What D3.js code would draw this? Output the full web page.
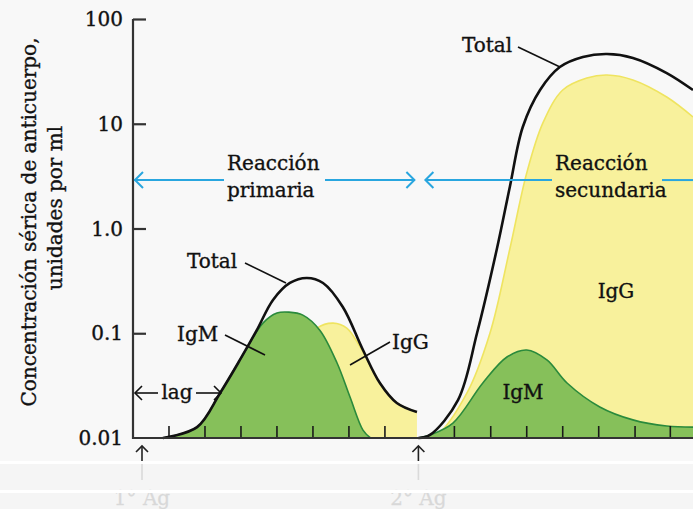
<!DOCTYPE html>
<html><head><meta charset="utf-8">
<script src="https://cdn.jsdelivr.net/npm/d3@7"></script>
<style>
html,body{margin:0;padding:0;background:#f8f8f8;}
svg{display:block;}
text{font-family:"DejaVu Serif",serif;fill:#111;stroke:#111;stroke-width:0.35px;}
</style></head>
<body>
<script>
// ---- data (time in arbitrary units: one tick = 1 unit) ----
const ag1 = 0.25, ag2 = 7.93;
const yTicks = [0.01, 0.1, 1, 10, 100];
const yTickLabels = ["0.01", "0.1", "1.0", "10", "100"];
const xTicksPrimary = [1, 2, 3, 4, 5, 6, 7];
const xTicksSecondary = [8.93, 9.94, 10.94, 11.94, 12.94, 13.95, 14.93];

const tPrimTotal = [0.83, 1.78, 2.42, 2.97, 3.44, 3.89, 4.36, 4.83, 5.28, 5.83, 6.39, 6.86, 7.33, 7.89];
const vPrimTotal = [0.01, 0.0127, 0.0269, 0.0556, 0.107, 0.208, 0.302, 0.337, 0.302, 0.178, 0.0692, 0.0335, 0.0216, 0.0177];
const tPrimIgM = [0.83, 1.78, 2.42, 2.97, 3.61, 4.0, 4.33, 4.72, 5.19, 5.67, 6.03, 6.39, 6.6];
const vPrimIgM = [0.01, 0.0127, 0.0269, 0.0556, 0.125, 0.156, 0.159, 0.149, 0.107, 0.052, 0.0246, 0.0119, 0.01];
const tPrimIgG = [3.5, 4.3, 5.11, 5.56, 5.94, 6.31, 6.86, 7.33, 7.89];
const vPrimIgG = [0.01, 0.05, 0.112, 0.125, 0.112, 0.074, 0.0335, 0.0216, 0.0177];

const tSecTotal = [7.93, 8.25, 9.03, 9.56, 10.11, 10.47, 10.83, 11.31, 11.86, 12.5, 13.17, 13.89, 14.83, 15.56];
const vSecTotal = [0.01, 0.0107, 0.023, 0.1005, 0.637, 2.49, 9.31, 21.0, 34.8, 43.4, 46.3, 42.5, 30.5, 21.0];
const tSecIgG = [7.93, 8.44, 9.28, 9.92, 10.47, 10.94, 11.39, 11.94, 12.61, 13.17, 13.89, 14.83, 15.56];
const vSecIgG = [0.01, 0.0107, 0.0269, 0.1005, 0.637, 3.39, 10.2, 21.0, 27.3, 29.2, 26.2, 18.0, 11.6];
const tSecIgM = [7.93, 8.25, 8.89, 9.72, 10.39, 10.94, 11.5, 12.06, 12.97, 13.89, 14.83, 15.56];
const vSecIgM = [0.01, 0.0107, 0.0139, 0.0335, 0.0593, 0.0692, 0.0556, 0.0335, 0.0198, 0.0149, 0.013, 0.0127];

const zip = (t, v) => t.map((d, i) => ({t: d, v: v[i]}));

// ---- layout ----
const W = 693, H = 509;
const svg = d3.select("body").append("svg").attr("width", W).attr("height", H);
const x = d3.scaleLinear().domain([0, 15.56]).range([133, 693]);
const y = d3.scaleLog().domain([0.01, 100]).range([438, 19]);

const GREEN = "#86c05a", GREEN_S = "#2a8a3c", YELLOW = "#f8f19c", YELLOW_S = "#efe460", BLUE = "#29a6df";
const FS = 20;

const curve = d3.curveCatmullRom.alpha(0.5);
const yBase = y(0.01);
const area = d3.area().x(d => x(d.t)).y0(yBase).y1(d => Math.min(yBase, y(d.v))).curve(curve);
const line = d3.line().x(d => x(d.t)).y(d => Math.min(yBase, y(d.v))).curve(curve);

svg.append("defs").append("clipPath").attr("id", "plot")
  .append("rect").attr("x", x(0)).attr("y", 0).attr("width", W).attr("height", yBase);
const plot = svg.append("g").attr("clip-path", "url(#plot)");

function drawSeries(t, v, fill, stroke) {
  const data = zip(t, v);
  plot.append("path").datum(data).attr("d", area).attr("fill", fill);
  plot.append("path").datum(data).attr("d", line).attr("fill", "none").attr("stroke", stroke).attr("stroke-width", 1.6);
}
drawSeries(tPrimIgG, vPrimIgG, YELLOW, YELLOW_S);
drawSeries(tPrimIgM, vPrimIgM, GREEN, GREEN_S);
drawSeries(tSecIgG, vSecIgG, YELLOW, YELLOW_S);
drawSeries(tSecIgM, vSecIgM, GREEN, GREEN_S);

// x ticks (inside)
svg.append("g").selectAll("line").data(xTicksPrimary.concat(xTicksSecondary)).join("line")
  .attr("x1", d => x(d)).attr("x2", d => x(d)).attr("y1", yBase).attr("y2", yBase - 12)
  .attr("stroke", "#1a1a1a").attr("stroke-width", 1.6);

// total lines
svg.append("path").datum(zip(tPrimTotal, vPrimTotal)).attr("d", line).attr("fill", "none").attr("stroke", "#111").attr("stroke-width", 2.6);
svg.append("path").datum(zip(tSecTotal, vSecTotal)).attr("d", line).attr("fill", "none").attr("stroke", "#111").attr("stroke-width", 2.6);

// axes
const yAxis = d3.axisRight(y).tickValues(yTicks.slice(1)).tickSize(13).tickFormat("");
const gy = svg.append("g").attr("transform", `translate(${x(0)},0)`).call(yAxis);
gy.select(".domain").remove();
gy.selectAll("line").attr("stroke", "#333").attr("stroke-width", 2.2);
svg.append("line").attr("x1", x(0)).attr("x2", x(0)).attr("y1", y(100)).attr("y2", yBase + 1).attr("stroke", "#333").attr("stroke-width", 2.2);
svg.append("line").attr("x1", x(0)).attr("x2", W).attr("y1", yBase).attr("y2", yBase).attr("stroke", "#333").attr("stroke-width", 2);

svg.append("g").selectAll("text").data(yTicks).join("text")
  .attr("x", x(0) - 10).attr("y", d => y(d)).attr("dy", "0.36em").attr("text-anchor", "end")
  .attr("font-size", FS).text((d, i) => yTickLabels[i]);

// y title
const title = svg.append("g");
title.append("text").attr("transform", "translate(36,222) rotate(-90)").attr("text-anchor", "middle")
  .attr("font-size", FS).text("Concentración sérica de anticuerpo,");
title.append("text").attr("transform", "translate(62,208) rotate(-90)").attr("text-anchor", "middle")
  .attr("font-size", FS).text("unidades por ml");

function chevron(g, px, py, dir, size, color, sw) {
  let p;
  if (dir === "l") p = `M${px + size},${py - size} L${px},${py} L${px + size},${py + size}`;
  if (dir === "r") p = `M${px - size},${py - size} L${px},${py} L${px - size},${py + size}`;
  if (dir === "u") p = `M${px - size},${py + size} L${px},${py} L${px + size},${py + size}`;
  g.append("path").attr("d", p).attr("fill", "none").attr("stroke", color).attr("stroke-width", sw);
}
const ann = svg.append("g");
const yb = y(2.9);
ann.append("line").attr("x1", x(0) + 1).attr("x2", 224).attr("y1", yb).attr("y2", yb).attr("stroke", BLUE).attr("stroke-width", 2);
ann.append("line").attr("x1", 325).attr("x2", x(ag2) - 4).attr("y1", yb).attr("y2", yb).attr("stroke", BLUE).attr("stroke-width", 2);
chevron(ann, x(0) + 2, yb, "l", 8, BLUE, 2);
chevron(ann, x(ag2) - 4, yb, "r", 8, BLUE, 2);
ann.append("line").attr("x1", x(ag2) + 7).attr("x2", 552).attr("y1", yb).attr("y2", yb).attr("stroke", BLUE).attr("stroke-width", 2);
chevron(ann, x(ag2) + 7, yb, "l", 8, BLUE, 2);
ann.append("line").attr("x1", 662).attr("x2", W).attr("y1", yb).attr("y2", yb).attr("stroke", BLUE).attr("stroke-width", 2);

ann.append("text").attr("x", 227).attr("y", 170).attr("font-size", FS).text("Reacción");
ann.append("text").attr("x", 227).attr("y", 197).attr("font-size", FS).text("primaria");
ann.append("text").attr("x", 555).attr("y", 170).attr("font-size", FS).text("Reacción");
ann.append("text").attr("x", 555).attr("y", 197).attr("font-size", FS).text("secundaria");

function label(txt, tx, ty, anchor, lx1, ly1, lx2, ly2) {
  ann.append("text").attr("x", tx).attr("y", ty).attr("text-anchor", anchor).attr("font-size", FS).text(txt);
  if (lx1 !== undefined)
    ann.append("line").attr("x1", lx1).attr("y1", ly1).attr("x2", lx2).attr("y2", ly2).attr("stroke", "#111").attr("stroke-width", 1.6);
}
label("Total", 187, 268, "start", 245, 263, 286, 283);
label("IgM", 177, 341, "start", 225, 335, 265, 355);
label("IgG", 392, 349, "start", 390, 342, 350, 365);
label("Total", 462, 52, "start", 518, 47, 560, 67);
label("IgG", 616, 298, "middle");
label("IgM", 523, 399, "middle");

// lag
const yl = 393;
ann.append("line").attr("x1", x(0) + 2).attr("x2", 158).attr("y1", yl).attr("y2", yl).attr("stroke", "#111").attr("stroke-width", 1.6);
chevron(ann, x(0) + 2, yl, "l", 7, "#111", 1.6);
ann.append("text").attr("x", 177).attr("y", 399).attr("text-anchor", "middle").attr("font-size", FS).text("lag");
ann.append("line").attr("x1", 196).attr("x2", 221).attr("y1", yl).attr("y2", yl).attr("stroke", "#111").attr("stroke-width", 1.6);
chevron(ann, 221, yl, "r", 7, "#111", 1.6);

// antigen arrows
[ag1, ag2].forEach((a, i) => {
  const px = x(a);
  ann.append("line").attr("x1", px).attr("x2", px).attr("y1", 446).attr("y2", 480).attr("stroke", "#222").attr("stroke-width", 1.6);
  chevron(ann, px, 446, "u", 6, "#222", 1.6);
  ann.append("text").attr("x", px).attr("y", 505).attr("text-anchor", "middle").attr("font-size", FS)
    .text((i === 0 ? "1" : "2") + "° Ag");
});

// faded bottom band
const band = svg.append("g");
band.append("rect").attr("x", 0).attr("y", 462).attr("width", W).attr("height", 47).attr("fill", "#f4f4f4").attr("opacity", 0.88);
band.append("rect").attr("x", 0).attr("y", 461).attr("width", W).attr("height", 3).attr("fill", "#ffffff");
band.append("rect").attr("x", 0).attr("y", 490).attr("width", W).attr("height", 3).attr("fill", "#ffffff");
</script>
</body></html>
